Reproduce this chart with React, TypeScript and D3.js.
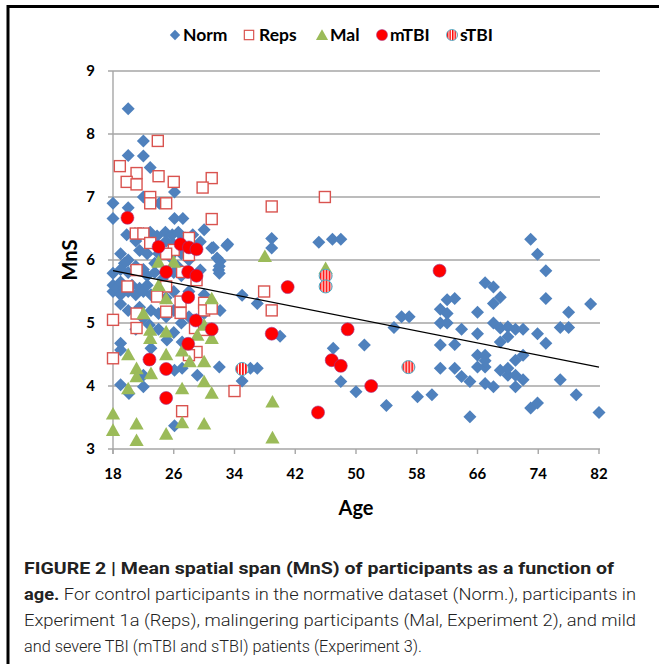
import React from 'react';
import * as d3 from 'd3';

// [age, MnS]
const norm: [number, number][] = [
  [20, 8.4], [22, 7.89], [20, 7.66], [22, 7.65], [22.9, 7.47], [22, 7.0], [24.1, 6.9], [26.1, 7.08], [18, 6.9], [18, 6.66],
  [20, 6.83], [26.1, 6.66], [27.2, 6.66], [30, 6.48], [31.2, 6.2], [33.1, 6.25], [32.1, 5.98], [19, 6.1],
  [19.8, 6.4], [20.9, 6.42], [22, 6.42], [22.9, 6.44], [23.8, 6.38], [24.9, 6.44], [25.8, 6.4], [26.6, 6.44], [27.5, 6.35],
  [28.5, 6.4], [21, 6.3], [23, 6.3], [25, 6.3], [26, 6.25], [27, 6.3], [29.5, 6.29], [31, 6.19], [33, 6.23],
  [20, 6.0], [21.5, 6.15], [22.5, 6.1], [24, 6.1], [25.5, 6.05], [27, 6.1], [28, 6.0], [31.7, 6.03], [19.5, 5.95], [23.5, 5.95], [26.5, 5.9],
  [18, 5.79], [19, 5.85], [20, 5.8], [21, 5.9], [22, 5.85], [22.5, 5.75], [23.5, 5.8], [24.5, 5.7], [26, 5.8], [27, 5.75],
  [29.5, 5.84], [31.9, 5.84], [32, 5.9], [32, 5.79],
  [18, 5.5], [18, 5.6], [18.5, 5.55], [19, 5.45], [19, 5.65], [19.5, 5.55], [20, 5.5], [20.5, 5.6], [21, 5.45], [21.5, 5.55],
  [22, 5.5], [22.5, 5.6], [23, 5.45], [24, 5.5], [25, 5.4], [26, 5.5], [28, 5.5], [30, 5.45], [35, 5.44], [37, 5.31],
  [19, 5.3], [20, 5.2], [21.5, 5.25], [22, 5.07], [23, 5.2], [24, 5.15], [25, 5.1], [26, 5.2], [27, 5.0], [28, 5.1], [29, 5.05],
  [30, 5.15], [32.1, 5.2], [22.8, 4.97], [24, 4.9], [26, 4.85], [21, 4.9], [25.1, 4.73],
  [19, 4.68], [19, 4.57], [19, 4.02], [20.1, 3.88], [22, 3.99], [22, 4.17], [26.1, 4.25], [29.1, 4.17], [27.1, 4.28], [32, 4.3],
  [35, 4.08], [36.1, 4.28], [37, 4.28], [26.1, 3.37], [27.1, 4.7], [23, 4.6], [28, 4.55],
  [38.9, 6.34], [38.9, 6.19], [45.1, 6.28], [46.9, 6.33], [48, 6.33], [40, 4.79], [47, 4.6], [51.1, 4.65], [48, 4.07], [50, 3.91],
  [54, 3.69], [55, 4.93], [56, 5.1], [57, 5.1], [58.1, 3.83], [60, 3.86],
  [61.1, 5.22], [62, 5.37], [61.1, 5.0], [62, 5.0], [61.1, 4.65], [61.1, 4.28], [73, 6.33], [73.9, 6.09], [75, 5.83], [75, 5.39],
  [67, 5.64], [68.1, 5.57], [69, 5.41], [68.1, 5.31], [66, 5.17], [63, 5.39], [62, 5.15], [63.9, 4.9], [68.1, 5.0], [69, 4.92],
  [70, 4.94], [71, 4.9], [72, 4.9], [70, 4.78], [69, 4.7], [66, 4.83], [63, 4.66], [73.9, 4.83], [75, 4.68], [76.9, 4.93],
  [78, 4.93], [78, 5.17], [80.9, 5.3], [66, 4.49], [67, 4.49], [66, 4.3], [67, 4.3], [67, 4.4], [63, 4.28], [63.9, 4.15],
  [65, 4.07], [67, 4.04], [68.1, 3.99], [69, 4.25], [70, 4.17], [71, 4.17], [70, 4.28], [71, 4.41], [72, 4.49], [71, 3.99],
  [72, 4.1], [76.9, 4.1], [79, 3.86], [73, 3.65], [73.9, 3.73], [82, 3.58], [65, 3.51],
];

const reps: [number, number][] = [
  [23.9, 7.89], [18.9, 7.49], [21.1, 7.38], [19.8, 7.24], [21.1, 7.2], [24, 7.33], [26, 7.24], [31, 7.3], [29.8, 7.15],
  [22.9, 7.0], [22.9, 6.9], [25, 6.9], [31, 6.65], [21, 6.42], [22, 6.42], [22.9, 6.27], [28, 6.35], [26, 6.16], [28, 6.08],
  [25, 6.1], [21.1, 5.84], [27.1, 5.81], [29, 5.68], [19.9, 5.58], [25, 5.58], [23.8, 5.42], [26.9, 5.34], [21.1, 5.15],
  [25, 5.18], [26.9, 5.16], [30, 5.32], [30, 5.2], [31, 5.23], [18, 5.05], [21.1, 4.92], [28.8, 4.92], [30, 4.89], [29, 4.54],
  [28, 4.49], [18, 4.44], [34, 3.92], [27.1, 3.6], [38.9, 6.85], [45.9, 7.0], [37.9, 5.5], [38.9, 5.2],
];

const mal: [number, number][] = [
  [24, 5.97], [26, 5.97], [24, 5.6], [25, 5.39], [31, 5.39], [22, 5.15], [22.9, 4.89], [22.9, 4.76], [25, 4.86], [29.1, 4.81],
  [30, 4.97], [31, 4.76], [20, 4.5], [25, 4.5], [27.1, 4.56], [28.1, 4.39], [30, 4.39], [21.1, 4.28], [21.1, 4.15], [23, 4.2],
  [20, 3.96], [27.1, 3.96], [30, 4.07], [31, 3.89], [18, 3.56], [18, 3.3], [21.1, 3.4], [21.1, 3.14], [25, 3.24], [27.1, 3.42],
  [30, 3.4], [38, 6.06], [39, 3.75], [39, 3.18], [46, 5.87],
];

const mtbi: [number, number][] = [
  [19.9, 6.67], [24, 6.21], [26.9, 6.25], [28, 6.2], [29, 6.17], [25, 5.81], [27.9, 5.81], [29, 5.75], [27.9, 5.41], [28.9, 5.04],
  [31, 4.9], [27.9, 4.67], [22.8, 4.42], [25, 4.27], [25, 3.81], [41, 5.57], [38.9, 4.83], [48.9, 4.9], [46.8, 4.41], [48, 4.32],
  [52, 4.0], [45, 3.58], [61, 5.83],
];

const stbi: [number, number][] = [[35, 4.27], [46, 5.75], [46, 5.58], [56.9, 4.3]];

// linear trend line end points
const trendAges = [18, 82];
const trendMns = [5.83, 4.3];

const xTicks = [18, 26, 34, 42, 50, 58, 66, 74, 82];
const yTicks = [3, 4, 5, 6, 7, 8, 9];
const legendLabels = ['Norm', 'Reps', 'Mal', 'mTBI', 'sTBI'];

const captionLines = [
  'Mean spatial span (MnS) of participants as a function of',
  'For control participants in the normative dataset (Norm.), participants in',
  'Experiment 1a (Reps), malingering participants (Mal, Experiment 2), and mild',
  'and severe TBI (mTBI and sTBI) patients (Experiment 3).',
];

const BLUE = '#4F81BD';
const RED_SQ = '#D9534F';
const GREEN = '#9BBB59';
const RED = '#FF0000';
const FONT = 'Lato, "Open Sans", sans-serif';

const x = d3.scaleLinear().domain([18, 82]).range([113, 599]);
const y = d3.scaleLinear().domain([3, 9]).range([449, 71]);

const diamond = (r: number) => `M0,${-r}L${r},0L0,${r}L${-r},0Z`;
const triangle = (r: number) => `M0,${-r}L${r * 1.05},${r * 0.85}L${-r * 1.05},${r * 0.85}Z`;

function Marker({ kind, size = 1 }: { kind: string; size?: number }) {
  if (kind === 'Norm') return <path d={diamond(6.5 * size)} fill={BLUE} />;
  if (kind === 'Reps')
    return <rect x={-5.5 * size} y={-5.5 * size} width={11 * size} height={11 * size} fill="white" stroke={RED_SQ} strokeWidth={1.4} />;
  if (kind === 'Mal') return <path d={triangle(6.8 * size)} fill={GREEN} />;
  if (kind === 'mTBI') return <circle r={6.5 * size} fill={RED} stroke="#9b3b8f" strokeWidth={0.6} />;
  return <circle r={6.5 * size} fill="url(#stripes)" stroke="#4BACC6" strokeWidth={1} />;
}

export default function App() {
  const series: [string, [number, number][]][] = [
    ['Norm', norm], ['Reps', reps], ['Mal', mal], ['mTBI', mtbi], ['sTBI', stbi],
  ];
  const legendX = [175, 249, 322, 382, 452];
  const trend = d3.line<number>().x((d) => x(d)).y((_, i) => y(trendMns[i]));

  return (
    <div style={{ position: 'absolute', left: 0, top: 0 }}>
      <svg width={659} height={664} style={{ display: 'block', background: 'white' }}>
        <defs>
          <pattern id="stripes" patternUnits="userSpaceOnUse" width={3} height={3}>
            <rect width={3} height={3} fill="white" />
            <rect width={1.7} height={3} fill={RED} />
          </pattern>
        </defs>
        {/* frame */}
        <line x1={8} x2={659} y1={6.5} y2={6.5} stroke="black" strokeWidth={3} />
        <line x1={8} x2={8} y1={5} y2={664} stroke="black" strokeWidth={3} />

        {/* gridlines */}
        {yTicks.map((t) => (
          <g key={t}>
            <line x1={108} x2={600} y1={y(t)} y2={y(t)} stroke="#A6A6A6" strokeWidth={1.4} />
            <text x={95} y={y(t)} dy="0.36em" textAnchor="end" fontFamily={FONT} fontWeight={700} fontSize={15}>{t}</text>
          </g>
        ))}
        <line x1={x(18)} x2={x(18)} y1={y(9)} y2={y(3) + 5} stroke="#A6A6A6" strokeWidth={1.4} />
        {xTicks.map((t) => (
          <g key={t}>
            <line x1={x(t)} x2={x(t)} y1={y(3)} y2={y(3) + 5} stroke="#A6A6A6" strokeWidth={1.4} />
            <text x={x(t)} y={479} textAnchor="middle" fontFamily={FONT} fontWeight={700} fontSize={15}>{t}</text>
          </g>
        ))}
        <text x={356} y={515} textAnchor="middle" fontFamily={FONT} fontWeight={700} fontSize={20}>Age</text>
        <text transform="translate(77,260) rotate(-90)" textAnchor="middle" fontFamily={FONT} fontWeight={700} fontSize={20}>MnS</text>

        {/* points */}
        {series.map(([name, pts]) => (
          <g key={name}>
            {pts.map((p, i) => (
              <g key={i} transform={`translate(${x(p[0])},${y(p[1])})`}>
                <Marker kind={name} />
              </g>
            ))}
          </g>
        ))}
        <path d={trend(trendAges) || ''} stroke="#000" strokeWidth={1.2} fill="none" />

        {/* legend */}
        {legendLabels.map((name, i) => (
          <g key={name} transform={`translate(${legendX[i]},35)`}>
            <g transform={name === 'Norm' ? 'scale(0.8)' : 'scale(0.85)'}>
              <Marker kind={name} />
            </g>
            <text x={name === 'Reps' ? 10 : 8} y={0} dy="0.36em" fontFamily={FONT} fontWeight={700} fontSize={17.5}>{name}</text>
          </g>
        ))}

        {/* caption */}
        <g fontFamily='Roboto, "Liberation Sans", Arial, sans-serif' fontSize={17} fill="#222">
          <text x={24} y={574} textLength={590} lengthAdjust="spacingAndGlyphs" fontWeight={700}>
            FIGURE 2 | {captionLines[0]}
          </text>
          <text x={24} y={600} textLength={612} lengthAdjust="spacingAndGlyphs" fontWeight={300}>
            <tspan fontWeight={700}>age.</tspan> {captionLines[1]}
          </text>
          <text x={24} y={626} textLength={612} lengthAdjust="spacingAndGlyphs" fontWeight={300}>{captionLines[2]}</text>
          <text x={24} y={652} textLength={398} lengthAdjust="spacingAndGlyphs" fontWeight={300}>{captionLines[3]}</text>
        </g>
      </svg>
    </div>
  );
}
